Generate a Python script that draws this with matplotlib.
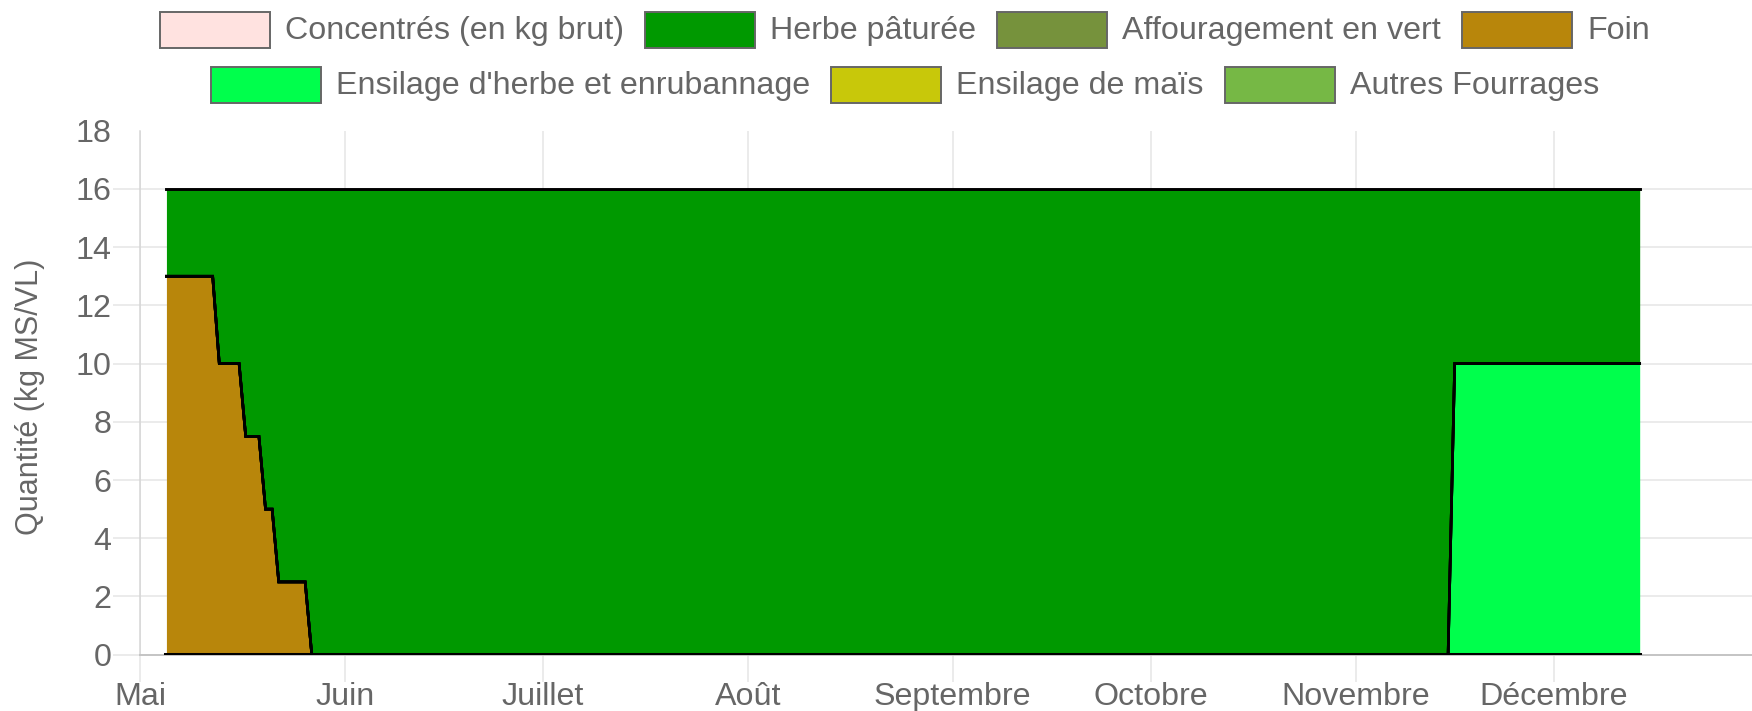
import numpy as np
import matplotlib
matplotlib.use('Agg')
import matplotlib.pyplot as plt
import matplotlib.dates as mdates
from matplotlib.patches import Rectangle

# ---- data ----
dates = ['2023-05-05', '2023-05-12', '2023-05-13', '2023-05-16', '2023-05-17',
         '2023-05-19', '2023-05-20', '2023-05-21', '2023-05-22', '2023-05-26',
         '2023-05-27', '2023-11-15', '2023-11-16', '2023-12-14']
concentres = [0, 0, 0, 0, 0, 0, 0, 0, 0, 0, 0, 0, 0, 0]
herbe_paturee = [3, 3, 6, 6, 8.5, 8.5, 11, 11, 13.5, 13.5, 16, 16, 6, 6]
affouragement = [0, 0, 0, 0, 0, 0, 0, 0, 0, 0, 0, 0, 0, 0]
foin = [13, 13, 10, 10, 7.5, 7.5, 5, 5, 2.5, 2.5, 0, 0, 0, 0]
ensilage_herbe = [0, 0, 0, 0, 0, 0, 0, 0, 0, 0, 0, 0, 10, 10]
ensilage_mais = [0, 0, 0, 0, 0, 0, 0, 0, 0, 0, 0, 0, 0, 0]
autres = [0, 0, 0, 0, 0, 0, 0, 0, 0, 0, 0, 0, 0, 0]

month_ticks = ['2023-05-01', '2023-06-01', '2023-07-01', '2023-08-01',
               '2023-09-01', '2023-10-01', '2023-11-01', '2023-12-01']
month_labels = ['Mai', 'Juin', 'Juillet', 'Août', 'Septembre', 'Octobre',
                'Novembre', 'Décembre']
y_ticks = [0, 2, 4, 6, 8, 10, 12, 14, 16, 18]

legend_labels = ['Concentrés (en kg brut)', 'Herbe pâturée', 'Affouragement en vert',
                 'Foin', "Ensilage d'herbe et enrubannage", 'Ensilage de maïs',
                 'Autres Fourrages']
legend_colors = ['#FFE2E0', '#009900', '#76923C', '#B8860B', '#00FF4C',
                 '#C8C80A', '#76B845']

plt.rcParams['font.family'] = ['Liberation Sans', 'DejaVu Sans']
FS = 23.2
GREY = '#666666'

W, H = 1752, 711
fig = plt.figure(figsize=(W / 100, H / 100), dpi=100)
x0, x1 = 140, W
y_bot, y_top = 654.7, 130.7
ax = fig.add_axes([x0 / W, 1 - y_bot / H, (x1 - x0) / W, (y_bot - y_top) / H])

x = mdates.date2num(np.array(dates, dtype='datetime64[D]'))

# stacking order bottom -> top
stack = [
    (concentres, legend_colors[0]),
    (foin, legend_colors[3]),
    (ensilage_herbe, legend_colors[4]),
    (ensilage_mais, legend_colors[5]),
    (affouragement, legend_colors[2]),
    (autres, legend_colors[6]),
    (herbe_paturee, legend_colors[1]),
]
cum = np.zeros(len(x))
for vals, col in stack:
    top = cum + np.array(vals, dtype=float)
    ax.fill_between(x, cum, top, color=col, lw=0, zorder=2)
    cum = top
cum = np.zeros(len(x))
n = len(stack)
for i, (vals, col) in enumerate(stack):
    top = cum + np.array(vals, dtype=float)
    lw = 2.9 if i == 0 else (2.1 if i == n - 1 else 1.9)
    ax.plot(x, top, color='black', lw=lw, zorder=3, solid_joinstyle='miter')
    cum = top

ax.set_xlim(mdates.date2num(np.datetime64('2023-05-01')),
            mdates.date2num(np.datetime64('2023-12-31')))
ax.set_ylim(0, 18)
ax.set_xticks(mdates.date2num(np.array(month_ticks, dtype='datetime64[D]')))
ax.set_xticklabels(month_labels)
ax.set_yticks(y_ticks)

ax.set_axisbelow(True)
ax.grid(True, color='#e6e6e6', lw=1.1)
ax.tick_params(axis='both', length=19.4, width=1.1, color='#e6e6e6',
               labelsize=FS, labelcolor=GREY)
ax.tick_params(axis='y', pad=1)
ax.tick_params(axis='x', pad=0)
ax.get_ygridlines()[-1].set_visible(False)
ax.yaxis.get_major_ticks()[-1].tick1line.set_visible(False)

for s in ['top', 'right']:
    ax.spines[s].set_visible(False)
ax.spines['left'].set_color('#d6d6d6')
ax.spines['left'].set_linewidth(1.1)
ax.spines['bottom'].set_color('#c4c4c4')
ax.spines['bottom'].set_linewidth(1.4)

fig.text(30 / W, 1 - 397 / H, 'Quantité (kg MS/VL)', rotation=90,
         ha='center', va='center', fontsize=22, color=GREY)

# ---- legend (manual, Chart.js style) ----
renderer = fig.canvas.get_renderer()
rows = [(list(range(0, 4)), 30), (list(range(4, 7)), 85)]
box_w, box_h, gap_bt, gap_items, center_x = 110, 36, 15, 21, 905
for idxs, yc in rows:
    texts = []
    for i in idxs:
        t = fig.text(0, 1 - yc / H, legend_labels[i], fontsize=FS, color=GREY,
                     ha='left', va='center')
        texts.append(t)
    widths = [t.get_window_extent(renderer).width for t in texts]
    total = sum(box_w + gap_bt + w for w in widths) + gap_items * (len(idxs) - 1)
    cx = center_x - total / 2
    for i, t, w in zip(idxs, texts, widths):
        fig.add_artist(Rectangle((cx / W, 1 - (yc + box_h / 2) / H), box_w / W, box_h / H,
                                 transform=fig.transFigure, facecolor=legend_colors[i],
                                 edgecolor='#666666', lw=1.4))
        t.set_x((cx + box_w + gap_bt) / W)
        t.set_y(1 - (yc + 1) / H)
        cx += box_w + gap_bt + w + gap_items

fig.savefig('out.png', dpi=100)
